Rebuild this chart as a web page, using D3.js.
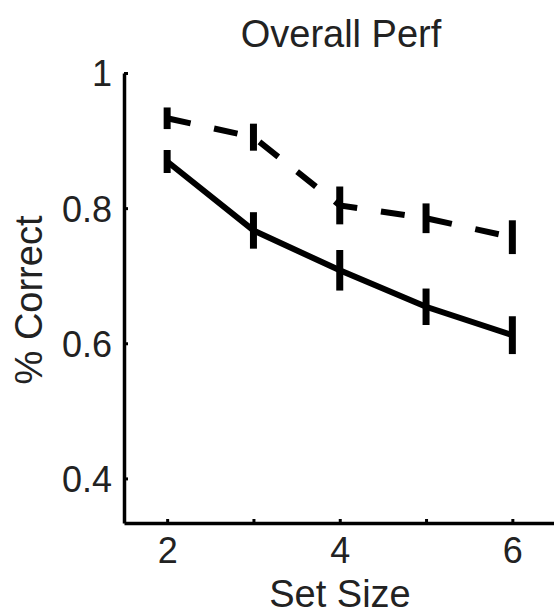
<!DOCTYPE html>
<html>
<head>
<meta charset="utf-8">
<script src="https://cdn.jsdelivr.net/npm/d3@7"></script>
<style>
  body { margin: 0; background: #fff; }
  text { font-family: "Liberation Sans", Arial, sans-serif; fill: #222; }
</style>
</head>
<body>
<script>
'use strict';

var width = 554;
var height = 616;

// data
var setSizes = [2, 3, 4, 5, 6];
var solidMean = [0.869, 0.767, 0.708, 0.654, 0.612];
var solidErr = [0.017, 0.027, 0.03, 0.027, 0.028];
var dashedMean = [0.933, 0.905, 0.804, 0.785, 0.757];
var dashedErr = [0.016, 0.02, 0.028, 0.022, 0.025];
var xTicks = [2, 3, 4, 5, 6];
var xTickLabels = ['2', '', '4', '', '6'];
var yTicks = [0.4, 0.6, 0.8, 1];
var yTickLabels = ['0.4', '0.6', '0.8', '1'];

var svg = d3.select('body').append('svg').attr('width', width).attr('height', height);

var x = d3.scaleLinear().domain([1.5, 6.5]).range([124, 555.5]);
var y = d3.scaleLinear().domain([0.334, 1]).range([523, 73]);

// axes (MATLAB style, ticks pointing inward)
var xAxis = d3.axisBottom(x).tickValues(xTicks).tickSize(-4).tickSizeOuter(0)
  .tickFormat(function (d, i) { return xTickLabels[i]; }).tickPadding(14);
var yAxis = d3.axisLeft(y).tickValues(yTicks).tickSize(-4).tickSizeOuter(0)
  .tickFormat(function (d, i) { return yTickLabels[i]; }).tickPadding(12);

var gx = svg.append('g').attr('transform', 'translate(0,' + y.range()[0] + ')').call(xAxis);
var gy = svg.append('g').attr('transform', 'translate(' + x.range()[0] + ',0)').call(yAxis);

[gx, gy].forEach(function (g) {
  g.select('.domain').attr('stroke', '#000').attr('stroke-width', 3.5);
  g.selectAll('.tick line').attr('stroke', '#000').attr('stroke-width', 3);
  g.selectAll('.tick text').style('font-size', '36px').attr('fill', '#222')
    .style('font-family', '"Liberation Sans", Arial, sans-serif');
});
gy.selectAll('.tick text').attr('dy', '0.36em');

var line = d3.line()
  .x(function (d) { return x(d[0]); })
  .y(function (d) { return y(d[1]); });

function series(means, errs, dash) {
  var pts = setSizes.map(function (s, i) { return [s, means[i], errs[i]]; });
  svg.append('path').datum(pts).attr('d', line)
    .attr('fill', 'none').attr('stroke', '#000').attr('stroke-width', 6)
    .attr('stroke-dasharray', dash);
  svg.selectAll(null).data(pts).enter().append('line')
    .attr('x1', function (d) { return x(d[0]); })
    .attr('x2', function (d) { return x(d[0]); })
    .attr('y1', function (d) { return y(d[1] - d[2]); })
    .attr('y2', function (d) { return y(d[1] + d[2]); })
    .attr('stroke', '#000').attr('stroke-width', 7);
}

series(dashedMean, dashedErr, '24,24');
series(solidMean, solidErr, null);

svg.append('text').attr('x', 341).attr('y', 47).attr('text-anchor', 'middle')
  .style('font-size', '38px').text('Overall Perf');

svg.append('text').attr('x', 340).attr('y', 607).attr('text-anchor', 'middle')
  .style('font-size', '38px').text('Set Size');

svg.append('text').attr('transform', 'translate(42,300) rotate(-90)')
  .attr('text-anchor', 'middle').style('font-size', '38px').text('% Correct');
</script>
</body>
</html>
